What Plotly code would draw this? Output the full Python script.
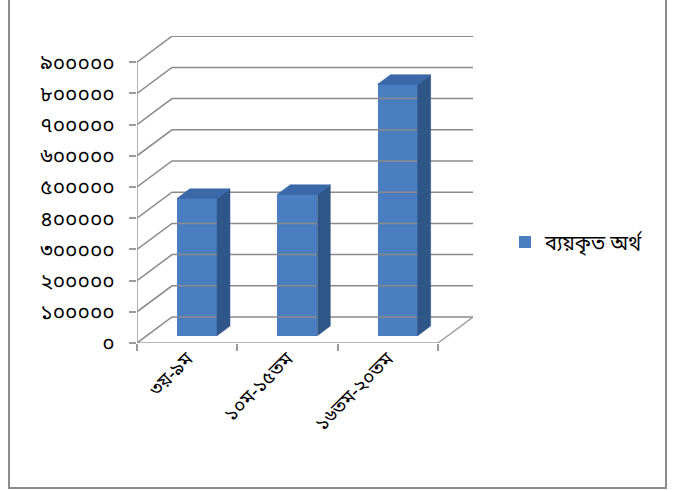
import plotly.graph_objects as go

categories = ["৩য়-৯ম", "১০ম-১৫তম", "১৬তম-২০তম"]
values = [440000, 453000, 806000]
series_name = "ব্যয়কৃত অর্থ"
tick_values = [0, 100000, 200000, 300000, 400000, 500000, 600000, 700000, 800000, 900000]
tick_labels = ["০", "১০০০০০", "২০০০০০", "৩০০০০০", "৪০০০০০", "৫০০০০০", "৬০০০০০", "৭০০০০০", "৮০০০০০", "৯০০০০০"]

# pseudo-3D geometry (oblique projection), in data units
W, H = 675, 490
L, T, R, B = 137, 36, 202, 147
plot_w = W - L - R
plot_h = H - T - B
n = len(categories)
x0, x1 = -0.5, n - 0.5
px_x = plot_w / (x1 - x0 + 0.348)
dx = 35 / px_x
ymax = 900000
y_per_px = 100000 / 31.2
dy = 26 * y_per_px
xr = [x0, x1 + dx]
yr = [0, plot_h * y_per_px]

BENG = "Noto Sans Bengali, Lohit Bengali, Vrinda, FreeSans, sans-serif"
GRID = "#8a8a8a"

fig = go.Figure()

# back wall gridlines
gx, gy = [], []
for v in tick_values:
    gx += [x0, x0 + dx, x1 + dx, None]
    gy += [v, v + dy, v + dy, None]
fig.add_trace(go.Scatter(x=gx, y=gy, mode="lines", line=dict(color=GRID, width=1.5),
                         showlegend=False, hoverinfo="skip", cliponaxis=False))
# floor
fig.add_trace(go.Scatter(x=[x0, x1, x1 + dx], y=[0, 0, dy], mode="lines",
                         line=dict(color="#a0a0a0", width=1.5), fill="none",
                         showlegend=False, hoverinfo="skip", cliponaxis=False))
# front y axis line
fig.add_trace(go.Scatter(x=[x0, x0], y=[0, ymax], mode="lines",
                         line=dict(color="#9a9a9a", width=1.5),
                         showlegend=False, hoverinfo="skip", cliponaxis=False))

# bars: depth placement
d0 = 0.28
bw = 0.4
bdx = 0.37 * dx
bdy = 0.37 * dy
base = d0 * dy
xs = [i + d0 * dx for i in range(n)]

for xc, v in zip(xs, values):
    xl, xrr = xc - bw / 2, xc + bw / 2
    # side face
    fig.add_trace(go.Scatter(x=[xrr, xrr + bdx, xrr + bdx, xrr, xrr],
                             y=[base, base + bdy, base + v + bdy, base + v, base],
                             mode="lines", fill="toself", fillcolor="#2f5689",
                             line=dict(color="#2f5689", width=0.5),
                             showlegend=False, hoverinfo="skip"))
    # top face
    fig.add_trace(go.Scatter(x=[xl, xrr, xrr + bdx, xl + bdx, xl],
                             y=[base + v, base + v, base + v + bdy, base + v + bdy, base + v],
                             mode="lines", fill="toself", fillcolor="#3a68a8",
                             line=dict(color="#3a68a8", width=0.5),
                             showlegend=False, hoverinfo="skip"))

fig.add_trace(go.Bar(x=xs, y=values, base=[base] * n, width=bw, name=series_name,
                     marker=dict(color="#4a7ec0", line=dict(width=0)),
                     showlegend=True))

# category tick marks (secondary x axis)
fig.update_layout(
    xaxis=dict(range=xr, tickvals=list(range(n)), ticktext=categories, tickangle=-45,
               showgrid=False, zeroline=False, showline=False, ticks="",
               tickfont=dict(family=BENG, size=19, color="#000000")),
    xaxis2=dict(range=xr, overlaying="x", anchor="y", side="bottom",
                tickvals=[i - 0.5 for i in range(n + 1)], showticklabels=False,
                ticks="outside", ticklen=7, tickcolor="#9a9a9a", tickwidth=1.5,
                showgrid=False, zeroline=False, showline=False),
    yaxis=dict(range=yr, tickvals=tick_values, ticktext=tick_labels,
               showgrid=False, zeroline=False, showline=False,
               ticks="outside", ticklen=7, tickcolor="#9a9a9a", tickwidth=1.5,
               ticklabelstandoff=10,
               tickfont=dict(family=BENG, size=21, color="#000000")),
)
fig.add_trace(go.Scatter(x=[x0], y=[0], xaxis="x2", mode="markers", marker=dict(opacity=0),
                         showlegend=False, hoverinfo="skip"))

# chart-area border
fig.add_shape(type="rect", xref="paper", yref="paper",
              x0=(9 - L) / plot_w, x1=(666 - L) / plot_w,
              y0=(H - B - 488) / plot_h, y1=(H - B + 12) / plot_h,
              line=dict(color="#8c8c8c", width=2))

fig.update_layout(
    width=W, height=H,
    margin=dict(l=L, r=R, t=T, b=B),
    plot_bgcolor="white", paper_bgcolor="white",
    showlegend=True,
    legend=dict(x=(505 - L) / plot_w, y=(H - B - 242) / plot_h, xanchor="left", yanchor="middle",
                font=dict(family=BENG, size=20, color="#000000"),
                itemwidth=30, bgcolor="rgba(0,0,0,0)"),
    bargap=0,
)
fig.write_html("out.html")
